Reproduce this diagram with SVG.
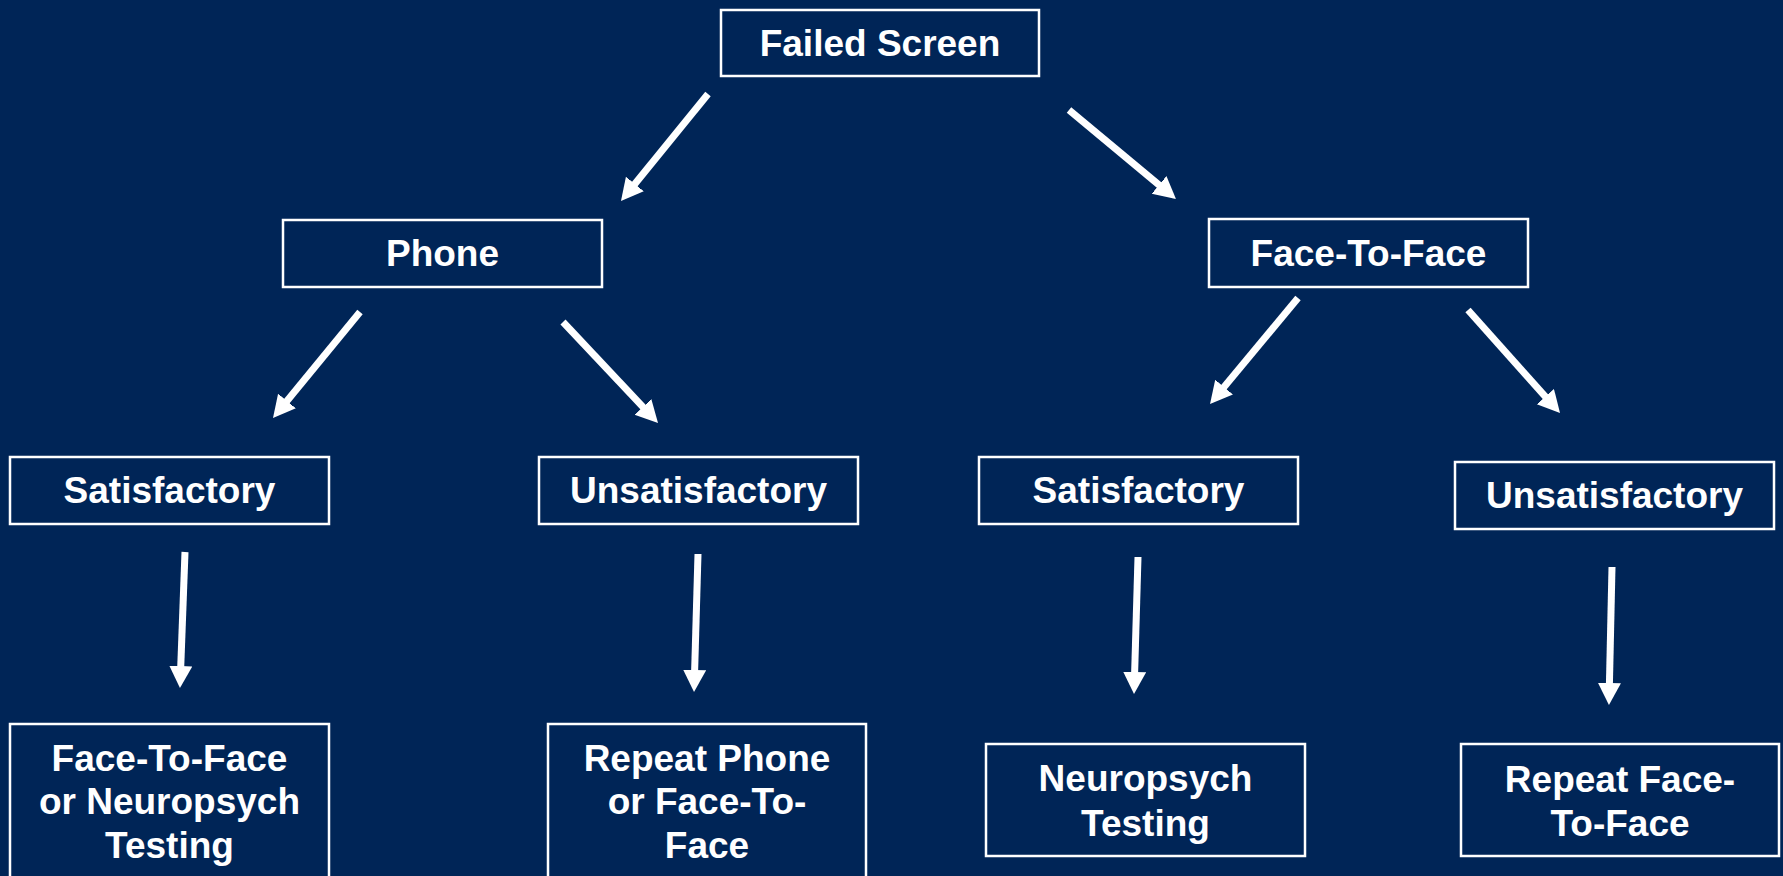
<svg xmlns="http://www.w3.org/2000/svg" width="1783" height="876" viewBox="0 0 1783 876">
<style>
.box{fill:#002557;stroke:#ffffff;stroke-width:2.5}
.t{fill:#ffffff;font-family:"Liberation Sans",Arial,sans-serif;font-weight:bold;font-size:37px;text-anchor:middle}
.c{stroke:#ffffff;stroke-width:7;fill:none;marker-end:url(#ah)}
</style>
<defs>
<marker id="ah" markerUnits="userSpaceOnUse" markerWidth="24" markerHeight="24" refX="2" refY="11.5" orient="auto" viewBox="0 0 24 24">
<path d="M0,0 L22,11.5 L0,23 z" fill="#ffffff"/>
</marker>
</defs>
<rect width="1783" height="876" fill="#002557"/>
<g id="connectors">
<line class="c" x1="708" y1="94" x2="633.6" y2="185.5"/>
<line class="c" x1="1069" y1="110" x2="1160.6" y2="186.2"/>
<line class="c" x1="360" y1="312" x2="285.7" y2="402.5"/>
<line class="c" x1="563" y1="322" x2="644.3" y2="408.4"/>
<line class="c" x1="1298" y1="298" x2="1222.8" y2="388.6"/>
<line class="c" x1="1468" y1="310" x2="1546.7" y2="398.1"/>
<line class="c" x1="185" y1="552" x2="180.7" y2="668"/>
<line class="c" x1="698" y1="554" x2="694.6" y2="672"/>
<line class="c" x1="1138" y1="557" x2="1134.6" y2="674"/>
<line class="c" x1="1612" y1="567" x2="1609.4" y2="685"/>
</g>
<g id="failed-screen"><rect class="box" x="721" y="10" width="318" height="66"/><text class="t" x="880" y="56">Failed Screen</text></g>
<g id="phone"><rect class="box" x="283" y="220" width="319" height="67"/><text class="t" x="442.5" y="266">Phone</text></g>
<g id="face-to-face"><rect class="box" x="1209" y="219" width="319" height="68"/><text class="t" x="1368.5" y="266">Face-To-Face</text></g>
<g id="phone-satisfactory"><rect class="box" x="10" y="457" width="319" height="67"/><text class="t" x="169.5" y="503">Satisfactory</text></g>
<g id="phone-unsatisfactory"><rect class="box" x="539" y="457" width="319" height="67"/><text class="t" x="698.5" y="503">Unsatisfactory</text></g>
<g id="ftf-satisfactory"><rect class="box" x="979" y="457" width="319" height="67"/><text class="t" x="1138.5" y="503">Satisfactory</text></g>
<g id="ftf-unsatisfactory"><rect class="box" x="1455" y="462" width="319" height="67"/><text class="t" x="1614.5" y="508">Unsatisfactory</text></g>
<g id="ftf-or-neuropsych"><rect class="box" x="10" y="724" width="319" height="200"/><text class="t" x="169.5" y="771">Face-To-Face</text><text class="t" x="169.5" y="814">or Neuropsych</text><text class="t" x="169.5" y="858">Testing</text></g>
<g id="repeat-phone"><rect class="box" x="548" y="724" width="318" height="200"/><text class="t" x="707" y="771">Repeat Phone</text><text class="t" x="707" y="814">or Face-To-</text><text class="t" x="707" y="858">Face</text></g>
<g id="neuropsych"><rect class="box" x="986" y="744" width="319" height="112"/><text class="t" x="1145.5" y="791">Neuropsych</text><text class="t" x="1145.5" y="836">Testing</text></g>
<g id="repeat-ftf"><rect class="box" x="1461" y="744" width="318" height="112"/><text class="t" x="1620" y="792">Repeat Face-</text><text class="t" x="1620" y="836">To-Face</text></g>
</svg>
